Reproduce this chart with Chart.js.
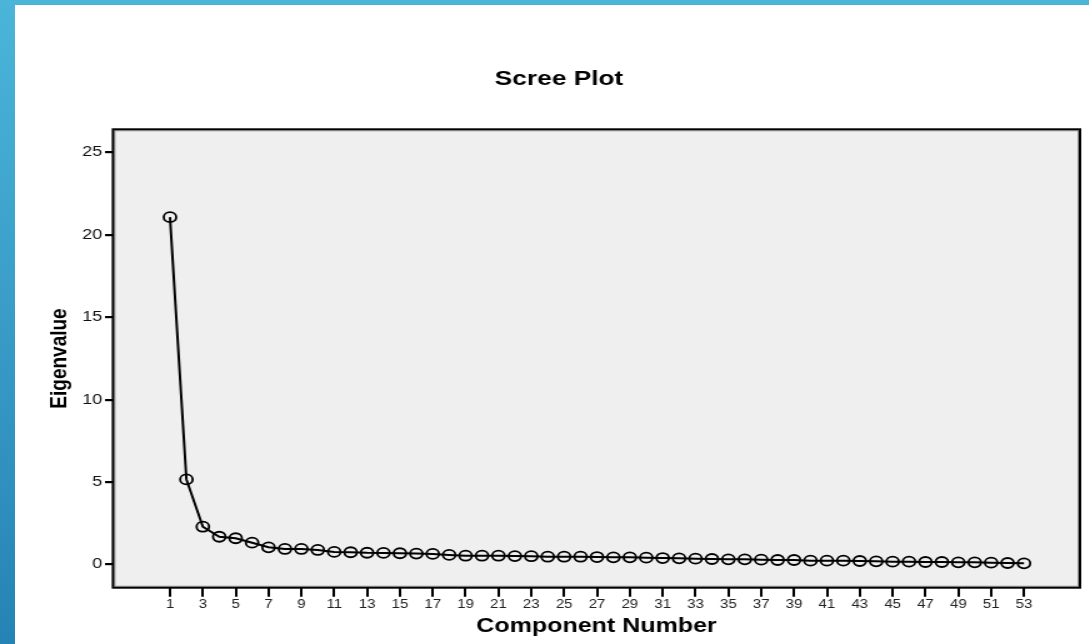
<!DOCTYPE html>
<html>
<head>
<meta charset="utf-8">
<script src="https://cdn.jsdelivr.net/npm/chart.js@4"></script>
<style>
  html, body { margin: 0; padding: 0; background: #fff; }
  body { width: 1089px; height: 644px; position: relative; overflow: hidden; }
  #barLeft { position: absolute; left: 0; top: 0; width: 15px; height: 644px;
    background: linear-gradient(#4bb5d9, #2683b5); }
  #barTop { position: absolute; left: 0; top: 0; width: 1089px; height: 5px; background: #4bb5d9; }
  /* the reference is stretched sideways, so draw narrow and stretch */
  #wrap { position: absolute; left: 15px; top: 5px; transform: scaleX(1.25); transform-origin: 0 0; }
</style>
</head>
<body>
<div id="barLeft"></div>
<div id="barTop"></div>
<div id="wrap"><canvas id="chart" width="859" height="639"></canvas></div>
<script>
// component numbers
const components = [1, 2, 3, 4, 5, 6, 7, 8, 9, 10, 11, 12, 13, 14, 15, 16, 17, 18, 19, 20,
  21, 22, 23, 24, 25, 26, 27, 28, 29, 30, 31, 32, 33, 34, 35, 36, 37, 38, 39, 40,
  41, 42, 43, 44, 45, 46, 47, 48, 49, 50, 51, 52, 53];

// eigenvalues
const eigenvalues = [21.07, 5.16, 2.29, 1.68, 1.59, 1.32, 1.04, 0.94, 0.94, 0.88,
  0.76, 0.74, 0.71, 0.70, 0.68, 0.66, 0.64, 0.58, 0.53, 0.53,
  0.53, 0.51, 0.50, 0.47, 0.47, 0.47, 0.45, 0.43, 0.43, 0.41,
  0.39, 0.37, 0.35, 0.33, 0.31, 0.31, 0.29, 0.27, 0.27, 0.23,
  0.23, 0.23, 0.21, 0.19, 0.17, 0.17, 0.15, 0.15, 0.13, 0.13,
  0.11, 0.09, 0.07];

const xTicks = [1, 3, 5, 7, 9, 11, 13, 15, 17, 19, 21, 23, 25, 27, 29, 31, 33, 35, 37,
  39, 41, 43, 45, 47, 49, 51, 53];
const yTicks = [0, 5, 10, 15, 20, 25];

const FONT = 'Arial, "Liberation Sans", sans-serif';

// grey plot area with black frame
const frame = {
  id: 'frame',
  beforeDatasetsDraw(chart) {
    const { ctx, chartArea: a } = chart;
    ctx.save();
    ctx.fillStyle = '#efefef';
    ctx.fillRect(a.left, a.top, a.right - a.left, a.bottom - a.top);
    ctx.restore();
  },
  afterDraw(chart) {
    const { ctx, chartArea: a } = chart;
    ctx.save();
    // soft grey shadow just inside the frame
    ctx.strokeStyle = '#9a9a9a';
    ctx.lineWidth = 1;
    ctx.strokeRect(a.left + 1.5, a.top + 1.5, a.right - a.left - 3, a.bottom - a.top - 3);
    ctx.strokeStyle = '#000';
    ctx.lineWidth = 2;
    ctx.strokeRect(a.left, a.top, a.right - a.left, a.bottom - a.top);
    ctx.restore();
  }
};

const ctx = document.getElementById('chart');
new Chart(ctx, {
  type: 'line',
  data: {
    datasets: [{
      data: components.map((c, i) => ({ x: c, y: eigenvalues[i] })),
      borderColor: '#000',
      borderWidth: 2,
      pointStyle: 'circle',
      pointRadius: 5,
      pointBorderWidth: 1.8,
      pointBorderColor: '#000',
      pointBackgroundColor: 'rgba(0,0,0,0)',
      tension: 0
    }]
  },
  options: {
    responsive: false,
    animation: false,
    events: [],
    layout: { padding: { left: 18.4, right: 7, top: 0, bottom: 0 } },
    plugins: {
      legend: { display: false },
      tooltip: { enabled: false },
      title: {
        display: true,
        text: 'Scree Plot',
        color: '#000',
        font: { family: FONT, size: 21, weight: 'bold' },
        padding: { top: 61.5, bottom: 37.6 }
      }
    },
    scales: {
      x: {
        type: 'linear',
        min: -2.47,
        max: 56.41,
        afterFit(scale) { scale.height = 56.3; },
        afterBuildTicks(scale) { scale.ticks = xTicks.map(v => ({ value: v })); },
        grid: { drawOnChartArea: false, drawTicks: true, tickLength: 9, color: '#000', lineWidth: 2 },
        border: { display: false },
        ticks: {
          color: '#222',
          padding: 1.2,
          maxRotation: 0,
          autoSkip: false,
          font: { family: FONT, size: 12 }
        },
        title: {
          display: true,
          text: 'Component Number',
          color: '#000',
          font: { family: FONT, size: 20, weight: 'bold' },
          padding: { top: 0, bottom: 6 }
        }
      },
      y: {
        min: -1.41,
        max: 26.4,
        afterFit(scale) { scale.width = 60; },
        afterBuildTicks(scale) { scale.ticks = yTicks.map(v => ({ value: v })); },
        grid: { drawOnChartArea: false, drawTicks: true, tickLength: 6.4, color: '#000', lineWidth: 2.2 },
        border: { display: false },
        ticks: {
          color: '#111',
          padding: 2.2,
          font: { family: FONT, size: 14.5 }
        },
        title: {
          display: true,
          text: 'Eigenvalue',
          color: '#000',
          font: { family: FONT, size: 19, weight: 'bold' },
          padding: { top: 6, bottom: 0 }
        }
      }
    }
  },
  plugins: [frame]
});
</script>
</body>
</html>
